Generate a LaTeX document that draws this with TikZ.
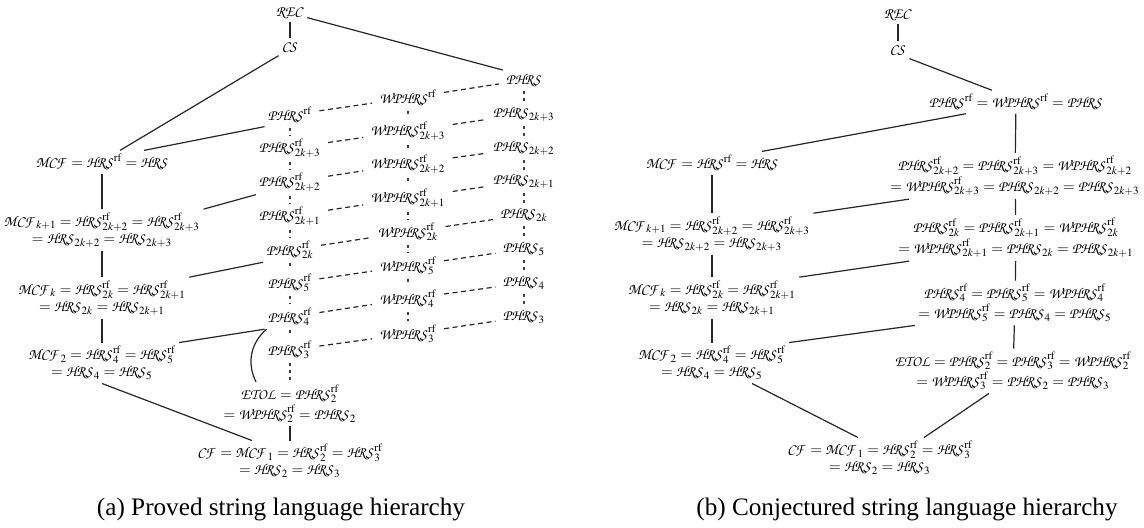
\documentclass[tikz,border=0pt]{standalone}
\usepackage{mathptmx}
\usepackage[no-math]{fontspec}
\setmainfont{Liberation Serif}
\DeclareMathAlphabet{\mathpzc}{OT1}{pzc}{m}{it}
\newcommand\Z[1]{\mathpzc{#1}}
\newcommand\rfx{\mathrm{rf}}
\tikzset{
  lab/.style={inner sep=1.5pt, font=\fontsize{7.5}{8.5}\selectfont, align=center},
  ln/.style={line width=0.6pt, black!85},
  dsh/.style={line width=0.6pt, black!85, dash pattern=on 2.5pt off 1.8pt, shorten <=2pt, shorten >=2pt},
  dshv/.style={line width=0.7pt, black!75, dash pattern=on 1.5pt off 2pt, shorten <=0.5pt, shorten >=0.3pt},
  captext/.style={font=\fontsize{12.6}{14}\selectfont}
}
\begin{document}
\begin{tikzpicture}[x=0.5pt,y=-0.5pt]
\useasboundingbox (0,0) rectangle (1144,527);
% ---------- (a) ----------
\node[lab] (rec) at (290,13) {$\Z{REC}$};
\node[lab] (cs) at (290,47) {$\Z{CS}$};
\node[lab] (R0) at (524,80) {$\Z{PHRS}$};
\node[lab] (M0) at (408,98) {$\Z{WPHRS}^{\rfx}$};
\node[lab] (L0) at (290,115) {$\Z{PHRS}^{\rfx}$};
\node[lab] (L1) at (290,148) {$\Z{PHRS}^{\rfx}_{2k+3}$};
\node[lab] (L2) at (290,182) {$\Z{PHRS}^{\rfx}_{2k+2}$};
\node[lab] (L3) at (290,216) {$\Z{PHRS}^{\rfx}_{2k+1}$};
\node[lab] (L4) at (290,250) {$\Z{PHRS}^{\rfx}_{2k}$};
\node[lab] (L5) at (290,283) {$\Z{PHRS}^{\rfx}_{5}$};
\node[lab] (L6) at (290,317) {$\Z{PHRS}^{\rfx}_{4}$};
\node[lab] (L7) at (290,350) {$\Z{PHRS}^{\rfx}_{3}$};
\node[lab] (M1) at (408,131) {$\Z{WPHRS}^{\rfx}_{2k+3}$};
\node[lab] (M2) at (408,164) {$\Z{WPHRS}^{\rfx}_{2k+2}$};
\node[lab] (M3) at (408,198) {$\Z{WPHRS}^{\rfx}_{2k+1}$};
\node[lab] (M4) at (408,232) {$\Z{WPHRS}^{\rfx}_{2k}$};
\node[lab] (M5) at (408,266) {$\Z{WPHRS}^{\rfx}_{5}$};
\node[lab] (M6) at (408,299) {$\Z{WPHRS}^{\rfx}_{4}$};
\node[lab] (M7) at (408,334) {$\Z{WPHRS}^{\rfx}_{3}$};
\node[lab] (R1) at (524,114) {$\Z{PHRS}_{2k+3}$};
\node[lab] (R2) at (524,148) {$\Z{PHRS}_{2k+2}$};
\node[lab] (R3) at (524,181) {$\Z{PHRS}_{2k+1}$};
\node[lab] (R4) at (524,215) {$\Z{PHRS}_{2k}$};
\node[lab] (R5) at (524,249) {$\Z{PHRS}_{5}$};
\node[lab] (R6) at (524,283) {$\Z{PHRS}_{4}$};
\node[lab] (R7) at (524,317) {$\Z{PHRS}_{3}$};
\node[lab] (etol) at (290,404) {$\Z{ETOL} = \Z{PHRS}^{\rfx}_2$\\$= \Z{WPHRS}^{\rfx}_2 = \Z{PHRS}_2$};
\node[lab] (cf) at (290,461) {$\Z{CF} = \Z{MCF}_1 = \Z{HRS}^{\rfx}_2 = \Z{HRS}^{\rfx}_3$\\$= \Z{HRS}_2 = \Z{HRS}_3$};
\node[lab] (mcf) at (102,162) {$\Z{MCF} = \Z{HRS}^{\rfx} = \Z{HRS}$};
\node[lab] (mcfa) at (102,230) {$\Z{MCF}_{k+1} = \Z{HRS}^{\rfx}_{2k+2} = \Z{HRS}^{\rfx}_{2k+3}$\\$= \Z{HRS}_{2k+2} = \Z{HRS}_{2k+3}$};
\node[lab] (mcfb) at (102,298) {$\Z{MCF}_{k} = \Z{HRS}^{\rfx}_{2k} = \Z{HRS}^{\rfx}_{2k+1}$\\$= \Z{HRS}_{2k} = \Z{HRS}_{2k+1}$};
\node[lab] (mcfc) at (102,363) {$\Z{MCF}_{2} = \Z{HRS}^{\rfx}_{4} = \Z{HRS}^{\rfx}_{5}$\\$= \Z{HRS}_{4} = \Z{HRS}_{5}$};
\draw[ln] (rec) -- (cs);
\draw[ln] (rec) -- (R0.north west);
\draw[ln] (cs.south west) -- ([xshift=9pt]mcf.north);
\draw[ln] (L0.south west) -- ([xshift=21pt]mcf.north);
\draw[ln] (L2.south west) -- (mcfa.north east);
\draw[ln] (L4.south west) -- (mcfb.north east);
\draw[ln] (L6.south west) -- (mcfc.north east);
\draw[ln] ([xshift=1pt]L6.south west) to[bend right=38] ([xshift=-17pt]etol.north);
\draw[ln] (mcf) -- (mcfa);
\draw[ln] (mcfa) -- (mcfb);
\draw[ln] (mcfb) -- (mcfc);
\draw[ln] (mcfc.south) -- ([xshift=-19pt]cf.north);
\draw[ln] (etol) -- (cf);
\foreach \i in {0,...,7}{
  \draw[dsh] (L\i) -- (M\i);
  \draw[dsh] (M\i) -- (R\i);
}
\foreach \i/\j in {0/1,1/2,2/3,3/4,4/5,5/6,6/7}{
  \draw[dshv] (L\i) -- (L\j);
  \draw[dshv] (M\i) -- (M\j);
  \draw[dshv] (R\i) -- (R\j);
}
\draw[dshv] (L7) -- (etol);
\node[captext] (capa) at (281,509) {(a) Proved string language hierarchy};
% ---------- (b) ----------
\node[lab] (rec2) at (898,15) {$\Z{REC}$};
\node[lab] (cs2) at (898,50) {$\Z{CS}$};
\node[lab] (q1) at (1016,102) {$\Z{PHRS}^{\rfx} = \Z{WPHRS}^{\rfx} = \Z{PHRS}$};
\node[lab] (q2) at (1015,176) {$\Z{PHRS}^{\rfx}_{2k+2} = \Z{PHRS}^{\rfx}_{2k+3} = \Z{WPHRS}^{\rfx}_{2k+2}$\\$= \Z{WPHRS}^{\rfx}_{2k+3} = \Z{PHRS}_{2k+2} = \Z{PHRS}_{2k+3}$};
\node[lab] (q3) at (1016,238) {$\Z{PHRS}^{\rfx}_{2k} = \Z{PHRS}^{\rfx}_{2k+1} = \Z{WPHRS}^{\rfx}_{2k}$\\$= \Z{WPHRS}^{\rfx}_{2k+1} = \Z{PHRS}_{2k} = \Z{PHRS}_{2k+1}$};
\node[lab] (q4) at (1015,303) {$\Z{PHRS}^{\rfx}_{4} = \Z{PHRS}^{\rfx}_{5} = \Z{WPHRS}^{\rfx}_{4}$\\$= \Z{WPHRS}^{\rfx}_{5} = \Z{PHRS}_{4} = \Z{PHRS}_{5}$};
\node[lab] (q5) at (1013,371) {$\Z{ETOL} = \Z{PHRS}^{\rfx}_{2} = \Z{PHRS}^{\rfx}_{3} = \Z{WPHRS}^{\rfx}_{2}$\\$= \Z{WPHRS}^{\rfx}_{3} = \Z{PHRS}_{2} = \Z{PHRS}_{3}$};
\node[lab] (mcfR) at (712,163) {$\Z{MCF} = \Z{HRS}^{\rfx} = \Z{HRS}$};
\node[lab] (mcfaR) at (712,234) {$\Z{MCF}_{k+1} = \Z{HRS}^{\rfx}_{2k+2} = \Z{HRS}^{\rfx}_{2k+3}$\\$= \Z{HRS}_{2k+2} = \Z{HRS}_{2k+3}$};
\node[lab] (mcfbR) at (712,298) {$\Z{MCF}_{k} = \Z{HRS}^{\rfx}_{2k} = \Z{HRS}^{\rfx}_{2k+1}$\\$= \Z{HRS}_{2k} = \Z{HRS}_{2k+1}$};
\node[lab] (mcfcR) at (712,363) {$\Z{MCF}_{2} = \Z{HRS}^{\rfx}_{4} = \Z{HRS}^{\rfx}_{5}$\\$= \Z{HRS}_{4} = \Z{HRS}_{5}$};
\node[lab] (cfR) at (880,458) {$\Z{CF} = \Z{MCF}_1 = \Z{HRS}^{\rfx}_2 = \Z{HRS}^{\rfx}_3$\\$= \Z{HRS}_2 = \Z{HRS}_3$};
\draw[ln] (rec2) -- (cs2);
\draw[ln] (cs2.south east) -- ([xshift=-12pt]q1.north);
\draw[ln] (q1) -- (q2);
\draw[ln] (q2) -- (q3);
\draw[ln] (q3) -- (q4);
\draw[ln] (q4) -- (q5);
\draw[ln] ([xshift=-25pt]q1.south) -- ([xshift=25pt]mcfR.north);
\draw[ln] ([xshift=11pt]q2.south west) -- (mcfaR.north east);
\draw[ln] ([xshift=7pt]q3.south west) -- (mcfbR.north east);
\draw[ln] (q4.south west) -- (mcfcR.north east);
\draw[ln] (mcfR) -- (mcfaR);
\draw[ln] (mcfaR) -- (mcfbR);
\draw[ln] (mcfbR) -- (mcfcR);
\draw[ln] ([xshift=20pt]mcfcR.south) -- ([xshift=-11pt]cfR.north);
\draw[ln] ([xshift=-12pt]q5.south) -- ([xshift=22pt]cfR.north);
\node[captext] (capb) at (907,509) {(b) Conjectured string language hierarchy};
\end{tikzpicture}
\end{document}
